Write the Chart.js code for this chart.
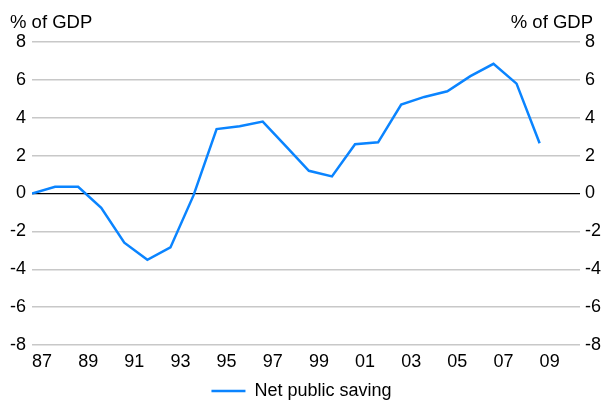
<!DOCTYPE html>
<html>
<head>
<meta charset="utf-8">
<script src="https://cdn.jsdelivr.net/npm/chart.js@4.4.0/dist/chart.umd.min.js"></script>
<style>
  html, body { margin: 0; padding: 0; background: #fff; }
  #wrap { width: 603px; height: 401px; }
</style>
</head>
<body>
<div id="wrap"><canvas id="savingChart" width="603" height="401"></canvas></div>
<script>
// financial years (points), values in % of GDP
const years = [1987, 1988, 1989, 1990, 1991, 1992, 1993, 1994, 1995, 1996, 1997, 1998,
               1999, 2000, 2001, 2002, 2003, 2004, 2005, 2006, 2007, 2008, 2009];
const netPublicSaving = [0.0, 0.35, 0.35, -0.75, -2.6, -3.5, -2.85, -0.1, 3.4, 3.55, 3.8, 2.5,
                         1.2, 0.9, 2.6, 2.7, 4.7, 5.1, 5.4, 6.2, 6.85, 5.8, 2.65];
const xTickYears = [1987, 1989, 1991, 1993, 1995, 1997, 1999, 2001, 2003, 2005, 2007, 2009];
const yTicks = [-8, -6, -4, -2, 0, 2, 4, 6, 8];

const FONT = "'Liberation Sans', Arial, sans-serif";
const BLUE = "#0A84FF";

// "% of GDP" labels above both axes
const unitLabels = {
    id: "unitLabels",
    afterDraw(chart) {
        const ctx = chart.ctx;
        ctx.save();
        ctx.font = "18.5px " + FONT;
        ctx.fillStyle = "#000";
        ctx.textBaseline = "alphabetic";
        ctx.textAlign = "left";
        ctx.fillText("% of GDP", 10, 28);
        ctx.textAlign = "right";
        ctx.fillText("% of GDP", 593, 28);
        ctx.restore();
    }
};

const ctx = document.getElementById("savingChart").getContext("2d");

new Chart(ctx, {
    type: "line",
    data: {
        datasets: [{
            label: "Net public saving",
            data: years.map((y, i) => ({ x: y, y: netPublicSaving[i] })),
            borderColor: BLUE,
            backgroundColor: BLUE,
            borderWidth: 2.5,
            pointRadius: 0,
            tension: 0,
            yAxisID: "y"
        }]
    },
    options: {
        responsive: false,
        animation: false,
        layout: { padding: { top: 42, bottom: -9, left: 0, right: 0 } },
        plugins: {
            legend: {
                position: "bottom",
                labels: {
                    font: { family: FONT, size: 18 },
                    color: "#000",
                    boxWidth: 34,
                    boxHeight: 0,
                    padding: 3
                }
            },
            tooltip: { enabled: false }
        },
        scales: {
            x: {
                type: "linear",
                min: 1987,
                max: 2010.75,
                afterBuildTicks: (scale) => {
                    scale.ticks = xTickYears.map(v => ({ value: v }));
                },
                afterFit: (scale) => { scale.height = 34; },
                grid: { display: false, drawTicks: false },
                border: { display: false },
                ticks: {
                    align: "start",
                    padding: 6,
                    maxRotation: 0,
                    autoSkip: false,
                    color: "#000",
                    font: { family: FONT, size: 18 },
                    callback: (v) => String(v % 100).padStart(2, "0")
                }
            },
            y: {
                position: "left",
                min: -8,
                max: 8,
                afterBuildTicks: (scale) => {
                    scale.ticks = yTicks.map(v => ({ value: v }));
                },
                afterFit: (scale) => { scale.width = 32; },
                grid: {
                    drawTicks: false,
                    color: (c) => (c.tick && c.tick.value === 0) ? "#000" : "#c8c8c8",
                    lineWidth: (c) => (c.tick && c.tick.value === 0) ? 1.2 : 1.5
                },
                border: { display: false },
                ticks: {
                    padding: 6,
                    color: "#000",
                    font: { family: FONT, size: 18 }
                }
            },
            y2: {
                position: "right",
                min: -8,
                max: 8,
                afterBuildTicks: (scale) => {
                    scale.ticks = yTicks.map(v => ({ value: v }));
                },
                afterFit: (scale) => { scale.width = 23; },
                grid: { display: false, drawTicks: false },
                border: { display: false },
                ticks: {
                    padding: 5,
                    color: "#000",
                    font: { family: FONT, size: 18 }
                }
            }
        }
    },
    plugins: [unitLabels]
});
</script>
</body>
</html>
